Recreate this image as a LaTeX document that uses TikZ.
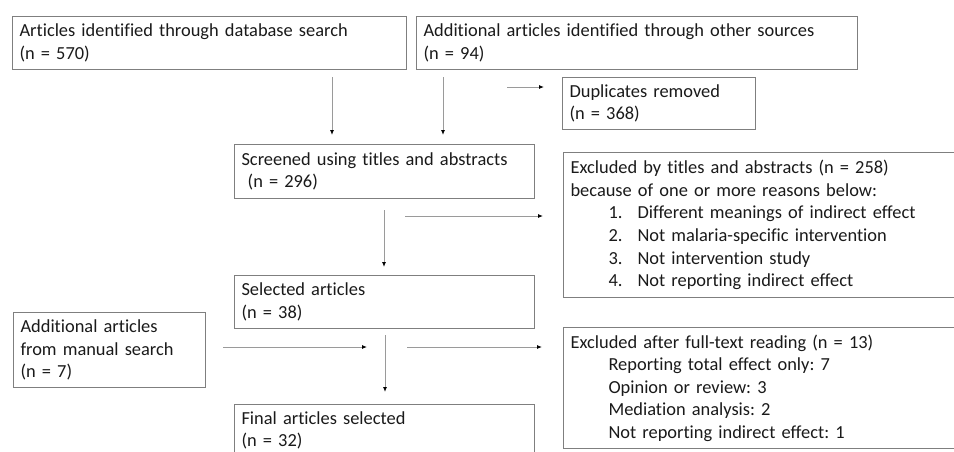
\documentclass[tikz,border=0pt]{standalone}
\usepackage{fontspec}
\setmainfont[Ligatures={TeX,NoCommon}]{Carlito}
\usetikzlibrary{arrows.meta}
\definecolor{boxgray}{HTML}{7F7F7F}
\definecolor{linegray}{HTML}{9A9A9A}
\definecolor{txt}{HTML}{1A1A1A}
\frenchspacing
\begin{document}
\begin{tikzpicture}[x=1pt,y=-1pt,
  box/.style={draw=boxgray,line width=1.1pt,anchor=north west,align=left,
    inner xsep=7pt,inner ysep=0pt,text=txt,
    font=\fontsize{18.4}{22.6}\selectfont},
  conn/.style={draw=linegray,line width=0.9pt,
    -{Latex[length=5pt,width=4pt,color=black]}}]
\useasboundingbox (0,0) rectangle (954,451);
\clip (0,0) rectangle (954,451);
\fill[white] (0,0) rectangle (954,451);

\node[box,text width=380pt,minimum height=53pt] (A) at (12,16)
  {Articles identified through database search\\(n = 570)};
\node[box,text width=427pt,minimum height=53pt] (B) at (416,16)
  {Additional articles identified through other sources\\(n = 94)};
\node[box,text width=179pt,minimum height=52pt] (dup) at (562,77)
  {Duplicates removed\\(n = 368)};
\node[box,text width=286pt,minimum height=54pt] (scr) at (234,144)
  {Screened using titles and abstracts\\\ (n = 296)};
\node[box,text width=386pt,minimum height=145pt] (ex1) at (563,152)
  {Excluded by titles and abstracts (n = 258)\\
   because of one or more reasons below:\\
   \hspace*{38pt}\makebox[29pt][l]{1.}Different meanings of indirect effect\\
   \hspace*{38pt}\makebox[29pt][l]{2.}Not malaria-specific intervention\\
   \hspace*{38pt}\makebox[29pt][l]{3.}Not intervention study\\
   \hspace*{38pt}\makebox[29pt][l]{4.}Not reporting indirect effect};
\node[box,text width=286pt,minimum height=53pt] (sel) at (234,275)
  {Selected articles\\(n = 38)};
\node[box,text width=178pt,minimum height=75pt] (man) at (13,312)
  {Additional articles\\from manual search\\(n = 7)};
\node[box,text width=386pt,minimum height=121pt] (ex2) at (563,327)
  {Excluded after full-text reading (n = 13)\\
   \hspace*{38pt}Reporting total effect only: 7\\
   \hspace*{38pt}Opinion or review: 3\\
   \hspace*{38pt}Mediation analysis: 2\\
   \hspace*{38pt}Not reporting indirect effect: 1};
\node[box,text width=286pt,minimum height=52pt] (fin) at (234,404)
  {Final articles selected\\(n = 32)};

\coordinate (a1s) at (332,77);  \coordinate (a1e) at (332,135);
\coordinate (a2s) at (443,77);  \coordinate (a2e) at (443,135);
\coordinate (a3s) at (507,87);  \coordinate (a3e) at (544,87);
\coordinate (a4s) at (384,210); \coordinate (a4e) at (384,267);
\coordinate (a5s) at (405,216); \coordinate (a5e) at (543,216);
\coordinate (a6s) at (223,347); \coordinate (a6e) at (367,347);
\coordinate (a7s) at (385,335); \coordinate (a7e) at (385,392);
\coordinate (a8s) at (407,347); \coordinate (a8e) at (542,347);

\draw[conn] (a1s) -- (a1e);
\draw[conn] (a2s) -- (a2e);
\draw[conn] (a3s) -- (a3e);
\draw[conn] (a4s) -- (a4e);
\draw[conn] (a5s) -- (a5e);
\draw[conn] (a6s) -- (a6e);
\draw[conn] (a7s) -- (a7e);
\draw[conn] (a8s) -- (a8e);
\end{tikzpicture}
\end{document}
